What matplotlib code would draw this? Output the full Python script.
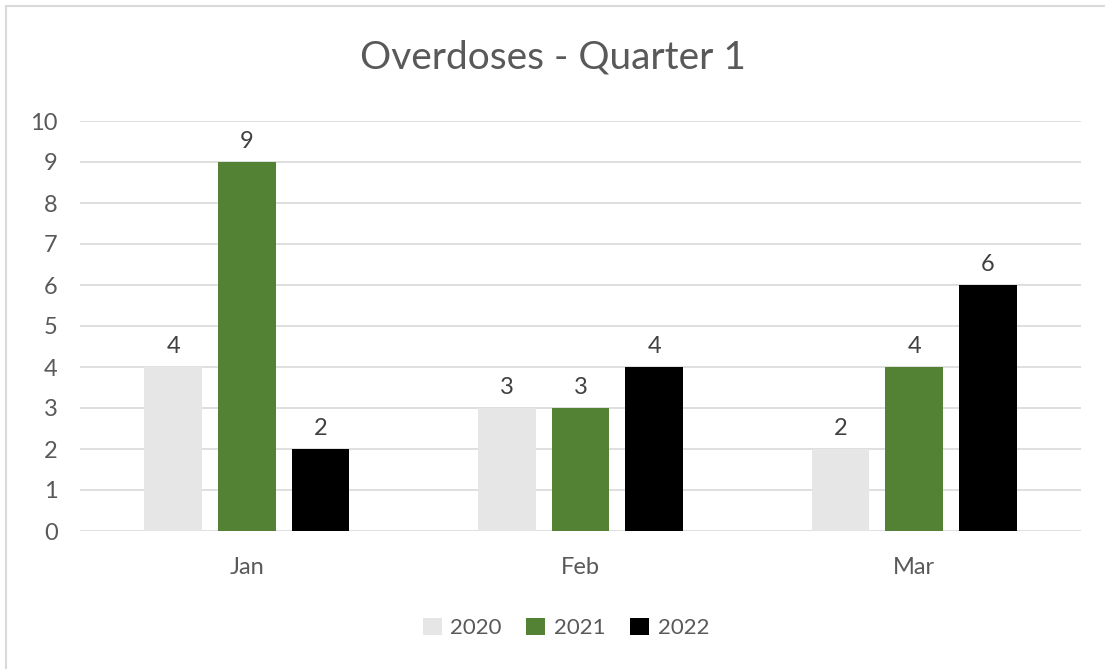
import matplotlib.pyplot as plt
import numpy as np
from matplotlib.patches import Rectangle

months = ["Jan", "Feb", "Mar"]
years = ["2020", "2021", "2022"]
counts_2020 = [4, 3, 2]
counts_2021 = [9, 3, 4]
counts_2022 = [2, 4, 6]
colors = ["#e6e6e6", "#548235", "#000000"]

text_col = "#595959"
plt.rcParams['font.family'] = ['Lato', 'DejaVu Sans']

fig = plt.figure(figsize=(11.05, 6.69), dpi=100)
ax = fig.add_axes([80 / 1105, 1 - 531 / 669, 1001 / 1105, 410 / 669])

# outer chart border
fig.patches.append(Rectangle((6 / 1105, -0.01), 1.1, 1 - 6 / 669 + 0.01,
                             transform=fig.transFigure, fill=False,
                             edgecolor="#d9d9d9", linewidth=1.5))

x = np.arange(len(months))
width = 0.173
step = 0.221
series = [counts_2020, counts_2021, counts_2022]
for i, (vals, yr, c) in enumerate(zip(series, years, colors)):
    bars = ax.bar(x + (i - 1) * step, vals, width, color=c, label=yr, zorder=3)
    for b, v in zip(bars, vals):
        ax.text(b.get_x() + b.get_width() / 2, v + 0.25, str(v),
                ha="center", va="bottom", fontsize=17, color="#404040")

ax.set_xlim(-0.5, 2.5)
ax.set_ylim(0, 10)
ax.set_yticks(range(0, 11))
ax.set_xticks(x)
ax.set_xticklabels(months)
ax.yaxis.grid(True, color="#d9d9d9", linewidth=1.2, zorder=0)
for s in ax.spines.values():
    s.set_visible(False)
ax.tick_params(length=0, labelsize=17, labelcolor=text_col)
ax.tick_params(axis="y", pad=16)
ax.tick_params(axis="x", pad=19)

fig.suptitle("Overdoses - Quarter 1", y=1 - 57 / 669, va="center",
             fontsize=28, color=text_col)

leg = fig.legend(loc="center", bbox_to_anchor=(566 / 1105, 1 - 628 / 669),
                 ncol=3, frameon=False, fontsize=16, handlelength=0.85,
                 handleheight=0.85, handletextpad=0.4, columnspacing=1.1)
for t in leg.get_texts():
    t.set_color(text_col)

fig.savefig("out.png", dpi=100)
